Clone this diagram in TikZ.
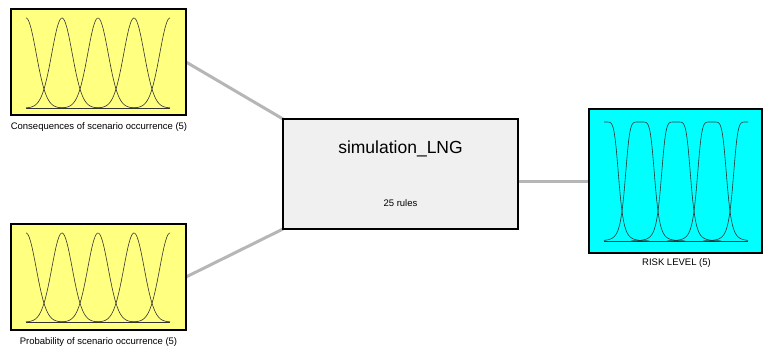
\documentclass[tikz,border=0pt]{standalone}
\usepackage{fontspec}
\setmainfont{Liberation Sans}
\usetikzlibrary{backgrounds}
\definecolor{inyellow}{RGB}{255,255,128}
\definecolor{outcyan}{RGB}{0,255,255}
\definecolor{sysgray}{RGB}{240,240,240}
\definecolor{linkgray}{RGB}{182,182,182}
\begin{document}
\begin{tikzpicture}[x=1pt,y=-1pt,
  varbox/.style={draw=black, line width=2pt, inner sep=0pt, outer sep=0pt},
  inbox/.style={varbox, fill=inyellow, minimum width=175pt, minimum height=106pt},
  outbox/.style={varbox, fill=outcyan, minimum width=173pt, minimum height=144pt},
  sysbox/.style={varbox, fill=sysgray, minimum width=235pt, minimum height=110pt},
  lbl/.style={font=\fontsize{9.5}{11}\selectfont, inner sep=0pt},
  link/.style={draw=linkgray, line width=3pt},
  mf/.style={draw=black!80, line width=0.6pt}
]
\useasboundingbox (0,0) rectangle (763,361);
\node[inbox]  (cons) at (98.5,62) {};
\node[inbox]  (prob) at (98.5,277) {};
\node[sysbox] (sys)  at (400.5,174) {};
\node[outbox] (risk) at (675.5,181) {};

\node[lbl] (conslbl) at (99,127) {Consequences of scenario occurrence (5)};
\node[lbl] (problbl) at (98.5,342) {Probability of scenario occurrence (5)};
\node[lbl] (risklbl) at (676.5,263.5) {RISK LEVEL (5)};
\node[font=\fontsize{17.5}{20}\selectfont, inner sep=0pt] (systitle) at (400.5,149) {simulation\_LNG};
\node[lbl] (sysrules) at (400.5,203) {25 rules};

\begin{scope}[on background layer]
  \draw[link] (cons.east) -- (sys.north west);
  \draw[link] (prob.east) -- (sys.south west);
  \draw[link] (risk.west -| sys.east) -- (risk.west);
\end{scope}

% input membership functions (gaussian)
\foreach \base/\h in {108/90, 322/89}{
  \draw[mf] (26,\base) -- (170,\base);
  \foreach \c in {26,62,98,134,170}{
    \pgfmathsetmacro\lo{max(26,\c-40)}
    \pgfmathsetmacro\hi{min(170,\c+40)}
    \draw[mf] plot[domain=\lo:\hi, samples=70, smooth]
      (\x, {\base-\h*exp(-0.5*((\x-\c)/10.2)^2)});
  }
}
% output membership functions (generalized bell)
\draw[mf] (604,241) -- (748,241);
\foreach \c in {604,640,676,712,748}{
  \pgfmathsetmacro\lo{max(604,\c-45)}
  \pgfmathsetmacro\hi{min(748,\c+45)}
  \draw[mf] plot[domain=\lo:\hi, samples=90, smooth]
    (\x, {241-119/(1+((\x-\c)/15)^6)});
}
\end{tikzpicture}
\end{document}
